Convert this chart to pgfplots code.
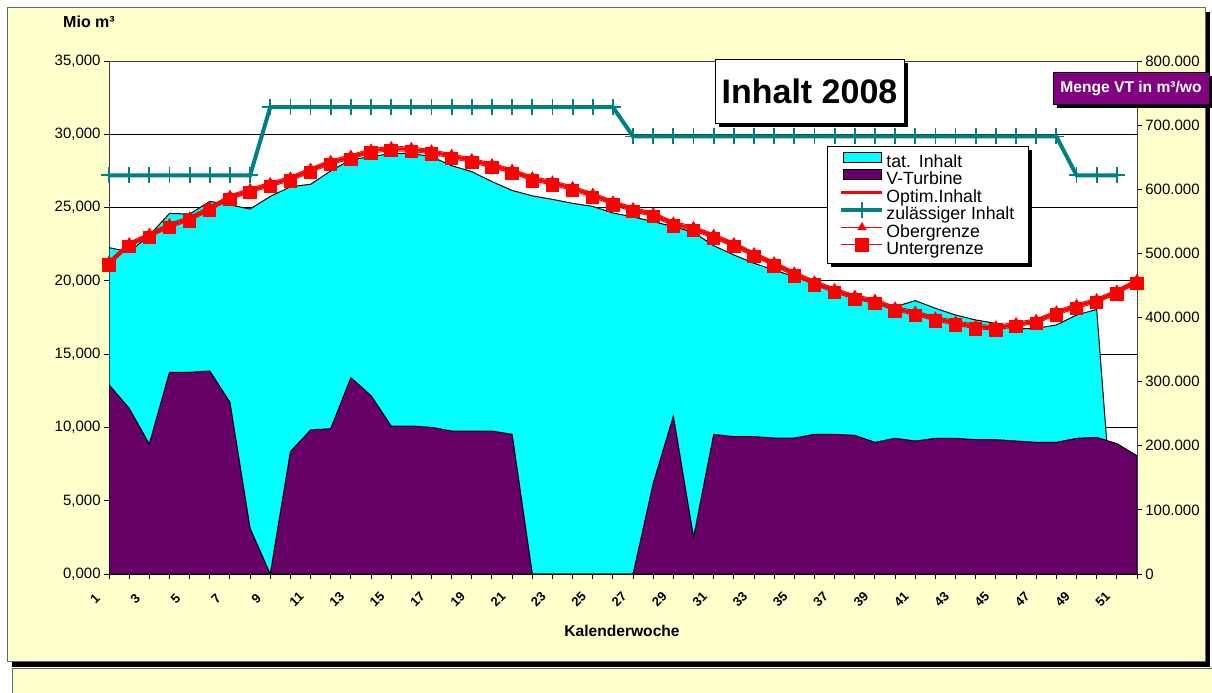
\documentclass[border=0pt]{standalone}
\usepackage{fontspec}
\setmainfont{Liberation Sans}
\usepackage{pgfplots}
\pgfplotsset{compat=1.18}
\usepackage{pgfplotstable}

\definecolor{bgyellow}{HTML}{FFFFCC}
\definecolor{vturb}{HTML}{660066}
\definecolor{tatcyan}{HTML}{00FFFF}
\definecolor{zulteal}{HTML}{008080}
\definecolor{boxpurple}{HTML}{800080}

\newcommand\lgt[1]{\rule[-2.1pt]{0pt}{8.1pt}\smash{#1}}
\newcommand\lgbb{\pgfresetboundingbox\pgfpathrectangle{\pgfpoint{0pt}{0pt}}{\pgfpoint{20.5pt}{5pt}}\pgfusepath{use as bounding box}}

\pgfplotstableread{
w inhalt
1 22270
2 21970
3 23100
4 24600
5 24560
6 25420
7 25180
8 24900
9 25760
10 26420
11 26590
12 27500
13 28270
14 28470
15 28690
16 28690
17 28470
18 27860
19 27450
20 26770
21 26170
22 25800
23 25560
24 25290
25 25080
26 24630
27 24360
28 24040
29 23700
30 23310
31 22400
32 21770
33 21200
34 20740
35 20290
36 19790
37 19310
38 18880
39 18470
40 18240
41 18650
42 18130
43 17670
44 17330
45 17100
46 16720
47 16760
48 16990
49 17670
50 18050
51 0
52 0
}\inhalttable

\pgfplotstableread{
w turb
1 295000
2 258400
3 202700
4 314500
5 314500
6 316600
7 267700
8 71200
9 0
10 190800
11 224600
12 226600
13 306200
14 278100
15 230800
16 230800
17 228700
18 223000
19 223000
20 223000
21 217800
22 0
23 0
24 0
25 0
26 0
27 0
28 141400
29 246400
30 57200
31 217800
32 214200
33 214200
34 212100
35 212100
36 217800
37 217800
38 216300
39 205300
40 211600
41 207400
42 211600
43 211600
44 209500
45 209500
46 207400
47 205300
48 205300
49 211600
50 213100
51 203300
52 184500
}\turbtable

\pgfplotstableread{
w unter optim ober
1 21080 21230 21380
2 22330 22480 22630
3 22970 23120 23270
4 23630 23780 23930
5 24090 24240 24390
6 24790 24940 25090
7 25560 25710 25860
8 26020 26170 26320
9 26430 26580 26730
10 26820 26970 27120
11 27410 27560 27710
12 27950 28100 28250
13 28300 28450 28600
14 28720 28870 29020
15 28880 29030 29180
16 28830 28980 29130
17 28660 28810 28960
18 28360 28510 28660
19 28070 28220 28370
20 27720 27870 28020
21 27340 27490 27640
22 26820 26970 27120
23 26540 26690 26840
24 26160 26310 26460
25 25700 25850 26000
26 25180 25330 25480
27 24720 24870 25020
28 24380 24530 24680
29 23740 23890 24040
30 23430 23580 23730
31 22900 23050 23200
32 22330 22480 22630
33 21650 21800 21950
34 21020 21170 21320
35 20330 20480 20630
36 19720 19870 20020
37 19200 19350 19500
38 18740 18890 19040
39 18470 18620 18770
40 17950 18100 18250
41 17650 17800 17950
42 17260 17410 17560
43 16990 17140 17290
44 16720 16870 17020
45 16650 16800 16950
46 16880 17030 17180
47 17100 17250 17400
48 17670 17820 17970
49 18130 18280 18430
50 18510 18660 18810
51 19100 19250 19400
52 19830 19980 20130
}\limtable

\pgfplotstableread{
w zul
1 27200
2 27200
3 27200
4 27200
5 27200
6 27200
7 27200
8 27200
9 31850
10 31850
11 31850
12 31850
13 31850
14 31850
15 31850
16 31850
17 31850
18 31850
19 31850
20 31850
21 31850
22 31850
23 31850
24 31850
25 31850
26 31850
27 29850
28 29850
29 29850
30 29850
31 29850
32 29850
33 29850
34 29850
35 29850
36 29850
37 29850
38 29850
39 29850
40 29850
41 29850
42 29850
43 29850
44 29850
45 29850
46 29850
47 29850
48 29850
49 27200
50 27200
51 27200
}\zultable

\pgfplotsset{
  base/.style={
    at={(54.5pt,-287pt)}, anchor=south west,
    scale only axis, width=514pt, height=256.5pt,
    xmin=1, xmax=52,
    scaled y ticks=false, scaled x ticks=false,
    tick align=outside,
    major tick length=2.5pt, minor tick length=2.5pt,
    tick style={black, line width=0.5pt},
    axis line style={black!75, line width=0.5pt},
  }
}

\begin{document}
\begin{tikzpicture}
\clip (0,0) rectangle (606pt,-346pt);
\begin{scope}[x=0.5pt,y=-0.5pt]
  \fill[white] (0,0) rectangle (1212,692);
  \fill[black] (12,12) rectangle (1210,667);
  \filldraw[fill=bgyellow, draw=black!60, line width=0.5pt] (7,7) rectangle (1205,661);
  \filldraw[fill=bgyellow, draw=black!60, line width=0.5pt] (12,668.5) rectangle (1230,710);
  \begin{scope}
    \clip (12,669) rectangle (1212,692);
    \node[font=\fontsize{7.8}{9}\selectfont\bfseries] at (622,662) {Kalenderwoche};
  \end{scope}
  \node[font=\fontsize{8}{9}\selectfont\bfseries] at (89,21.5) {Mio m³};
  \node[font=\fontsize{7.8}{9}\selectfont\bfseries] at (622,631) {Kalenderwoche};
\end{scope}

% left axis: grid + actual content
\begin{axis}[base,
  ymin=0, ymax=35000,
  axis background/.style={fill=white},
  ymajorgrids, major grid style={black, line width=0.5pt},
  ytick={0,5000,10000,15000,20000,25000,30000,35000},
  yticklabels={{0,000},{5,000},{10,000},{15,000},{20,000},{25,000},{30,000},{35,000}},
  xtick={1,3,...,51},
  xticklabels={1,3,5,7,9,11,13,15,17,19,21,23,25,27,29,31,33,35,37,39,41,43,45,47,49,51},
  minor xtick={2,4,...,52},
  xtick pos=left, ytick pos=left,
  yticklabel style={font=\fontsize{7.5}{9}\selectfont, inner sep=1.5pt},
  xticklabel style={font=\fontsize{6.5}{7}\selectfont\bfseries, anchor=center, inner sep=0pt, xshift=-7pt, yshift=-10pt, rotate=45},
]
\addplot[fill=tatcyan, draw=black, line width=0.5pt] table[x=w,y=inhalt]{\inhalttable} \closedcycle;
\end{axis}

% right axis: turbine volume
\begin{axis}[base,
  ymin=0, ymax=800000,
  axis x line=none, axis y line*=right,
  ytick={0,100000,200000,300000,400000,500000,600000,700000,800000},
  yticklabels={0,100.000,200.000,300.000,400.000,500.000,600.000,700.000,800.000},
  yticklabel style={font=\fontsize{7.5}{9}\selectfont, inner sep=1.5pt},
]
\addplot[fill=vturb, draw=black, line width=0.5pt] table[x=w,y=turb]{\turbtable} \closedcycle;
\end{axis}

% legend shadow
\begin{scope}[x=0.5pt,y=-0.5pt]
  \fill[black] (831,150) rectangle (1032,266.5);
\end{scope}

% left axis: lines + legend
\begin{axis}[base,
  ymin=0, ymax=35000, hide axis, clip=false,
  legend style={at={(0.6984,0.8343)}, anchor=north west,
    draw=black, line width=0.5pt, fill=white,
    font=\fontsize{8.85}{8.1}\selectfont,
    inner xsep=7pt, inner ysep=3pt, row sep=0pt,
    nodes={inner sep=0pt},
    /tikz/every odd column/.append style={column sep=2pt},
  },
  legend cell align=left,
  legend image code/.code={\draw[mark repeat=2,mark phase=2,#1] plot coordinates {(0pt,2.6pt) (10.25pt,2.6pt) (20.5pt,2.6pt)};\lgbb},
]
\addlegendimage{legend image code/.code={\draw[fill=tatcyan,draw=black,line width=0.5pt] (1pt,0.2pt) rectangle (20pt,5.2pt);\lgbb}}
\addlegendentry{\lgt{tat.\ \,Inhalt}}
\addlegendimage{legend image code/.code={\draw[fill=vturb,draw=black,line width=0.5pt] (1pt,0.2pt) rectangle (20pt,5.2pt);\lgbb}}
\addlegendentry{\lgt{V-Turbine}}
\addplot[red, line width=1.5pt] table[x=w,y=optim]{\limtable};
\addlegendentry{\lgt{Optim.Inhalt}}
\addplot[zulteal, line width=2pt, mark=+, mark size=4pt, mark options={line width=0.9pt, solid}] table[x=w,y=zul]{\zultable};
\addlegendentry{\lgt{zulässiger Inhalt}}
\addplot[red, line width=0.5pt, mark=triangle*, mark size=2.2pt] table[x=w,y=ober]{\limtable};
\addlegendentry{\lgt{Obergrenze}}
\addplot[red, line width=0.5pt, mark=square*, mark size=3.1pt] table[x=w,y=unter]{\limtable};
\addlegendentry{\lgt{Untergrenze}}
\end{axis}

\begin{scope}[x=0.5pt,y=-0.5pt]
  \fill[black] (719,63) rectangle (908,127);
  \filldraw[fill=white, draw=black, line width=0.5pt] (715,59) rectangle (904,123);
  \node[font=\fontsize{17}{20}\selectfont\bfseries] at (809.5,91) {Inhalt 2008};
  \fill[black] (1057,76) rectangle (1213,108);
  \filldraw[fill=boxpurple, draw=black, line width=0.5pt] (1053,72) rectangle (1209,104);
  \node[font=\fontsize{7.8}{9}\selectfont\bfseries, text=white] at (1131,88) {Menge VT in m³/wo};
\end{scope}
\end{tikzpicture}
\end{document}
